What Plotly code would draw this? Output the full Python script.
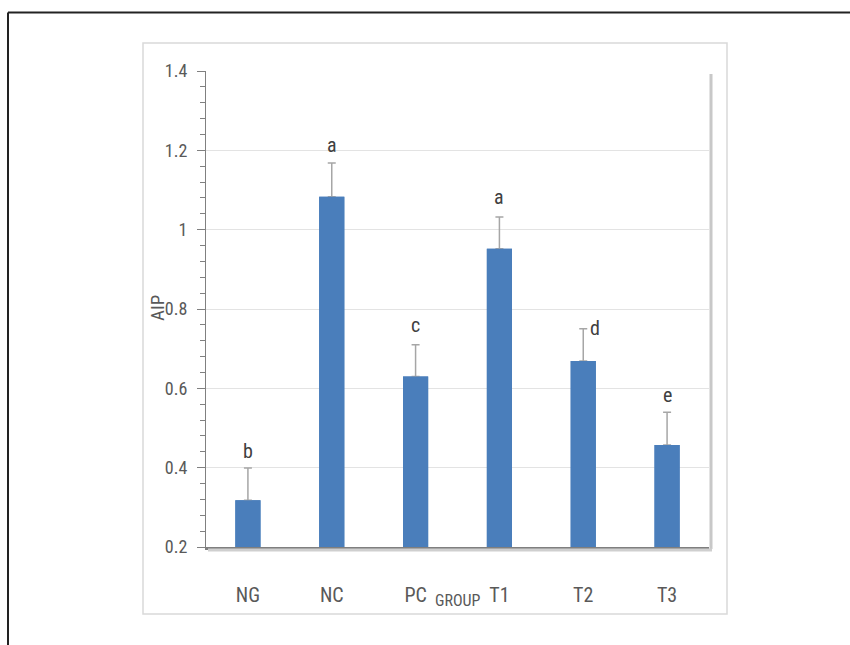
import plotly.graph_objects as go

groups = ["NG", "NC", "PC", "T1", "T2", "T3"]
aip = [0.318, 1.083, 0.630, 0.952, 0.669, 0.457]
sem = [0.081, 0.085, 0.080, 0.080, 0.081, 0.083]
letters = ["b", "a", "c", "a", "d", "e"]
y_ticks = [0.2, 0.4, 0.6, 0.8, 1.0, 1.2, 1.4]
y_tick_text = ["0.2", "0.4", "0.6", "0.8", "1", "1.2", "1.4"]

W, H = 850, 645
L, R, T, B = 206, 709, 71, 547  # plot area in px

def px_x(p):
    return (p - L) / (R - L)

def px_y(p):
    return (B - p) / (B - T)

FONT = "Liberation Sans Narrow, Roboto Condensed, Arial Narrow, Roboto, sans-serif"
TXT = "#595959"
BAR = "#4a7ebb"

fig = go.Figure()
# bars carrying the error bars
fig.add_trace(go.Bar(
    x=groups, y=[v - 0.2 for v in aip], base=0.2,
    marker=dict(color=BAR, line=dict(width=0)),
    width=0.3,
    error_y=dict(type="data", symmetric=False, array=sem, arrayminus=[0]*len(sem),
                 color="#a6a6a6", thickness=1.5, width=4),
    hoverinfo="skip",
))
# same bars on top, hiding the lower caps
fig.add_trace(go.Bar(
    x=groups, y=[v - 0.2 for v in aip], base=0.2,
    marker=dict(color=BAR, line=dict(width=0)),
    width=0.3, hoverinfo="skip",
))

# letter annotations
label_xshift = [0, 0, 0, 0, 12, 0]
label_yshift = [3, 4, 6, 6, -13, 3]
for g, v, e, t, dx, dy in zip(groups, aip, sem, letters, label_xshift, label_yshift):
    fig.add_annotation(x=g, y=v + e, text=t, showarrow=False, xref="x", yref="y",
                       yanchor="bottom", xanchor="center", xshift=dx, yshift=dy,
                       font=dict(family=FONT, size=20, color="#404040"))

# axis titles
fig.add_annotation(x=px_x(157), y=px_y(308), xref="paper", yref="paper", text="AIP",
                   textangle=-90, showarrow=False, xanchor="center", yanchor="middle",
                   font=dict(family=FONT, size=19, color=TXT))
fig.add_annotation(x=px_x(458), y=px_y(600), xref="paper", yref="paper", text="GROUP",
                   showarrow=False, xanchor="center", yanchor="middle",
                   font=dict(family=FONT, size=16, color=TXT))

shapes = [
    # outer black frame (top and left)
    dict(type="line", xref="paper", yref="paper", x0=px_x(8), x1=px_x(852),
         y0=px_y(12.5), y1=px_y(12.5), line=dict(color="#222222", width=2)),
    dict(type="line", xref="paper", yref="paper", x0=px_x(8), x1=px_x(8),
         y0=px_y(12.5), y1=px_y(650), line=dict(color="#222222", width=2)),
    # chart-area box
    dict(type="rect", xref="paper", yref="paper", x0=px_x(143), x1=px_x(727),
         y0=px_y(614), y1=px_y(43), line=dict(color="#d9d9d9", width=1.5)),
    # plot-area shadows
    dict(type="line", xref="paper", yref="paper", x0=px_x(711), x1=px_x(711),
         y0=px_y(549), y1=px_y(74), line=dict(color="#c8c8c8", width=3)),
    dict(type="line", xref="paper", yref="paper", x0=px_x(208), x1=px_x(712),
         y0=px_y(550), y1=px_y(550), line=dict(color="#cfcfcf", width=3)),
]

fig.update_layout(
    width=W, height=H,
    margin=dict(l=L, r=W - R, t=T, b=H - B),
    paper_bgcolor="white", plot_bgcolor="white",
    showlegend=False,
    shapes=shapes,
    barmode="overlay",
    font=dict(family=FONT, color=TXT),
    xaxis=dict(
        showgrid=False, showline=True, linecolor="#7f7f7f", linewidth=2.5,
        ticks="", ticklabelstandoff=28,
        tickfont=dict(family=FONT, size=20, color=TXT),
        fixedrange=True, zeroline=False,
    ),
    yaxis=dict(
        range=[0.2, 1.4], tickvals=y_ticks, ticktext=y_tick_text,
        showgrid=True, gridcolor="#e3e3e3", gridwidth=1,
        showline=True, linecolor="#808080", linewidth=1,
        ticks="outside", ticklen=8, tickcolor="#808080", tickwidth=1,
        minor=dict(dtick=0.04, tick0=0.2, ticks="outside", ticklen=5,
                   tickcolor="#808080", tickwidth=1, showgrid=False),
        ticklabelstandoff=6,
        tickfont=dict(family=FONT, size=18, color=TXT),
        zeroline=False, fixedrange=True,
    ),
)

fig.write_html("out.html", config={"displayModeBar": False},
               post_script="document.body.style.margin='0';document.body.style.overflow='hidden';")
